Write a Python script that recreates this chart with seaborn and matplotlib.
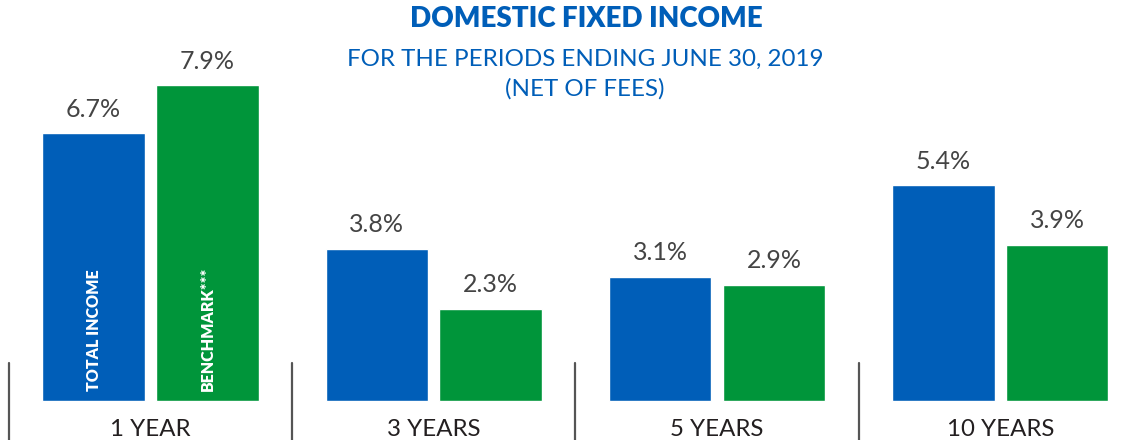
import matplotlib
matplotlib.use("Agg")
import matplotlib.pyplot as plt
import matplotlib.transforms as mtransforms
import seaborn as sns
import pandas as pd

periods = ["1 YEAR", "3 YEARS", "5 YEARS", "10 YEARS"]
total_income = [6.7, 3.8, 3.1, 5.4]
benchmark = [7.9, 2.3, 2.9, 3.9]
series_names = ["TOTAL INCOME", "BENCHMARK***"]

BLUE = "#005EB8"
GREEN = "#00953A"
TEXT = "#231F20"

df = pd.DataFrame({
    "period": periods * 2,
    "series": [series_names[0]] * len(periods) + [series_names[1]] * len(periods),
    "value": total_income + benchmark,
})

sns.set_theme(style="white")
plt.rcParams["font.family"] = ["Lato", "DejaVu Sans"]

fig = plt.figure(figsize=(11.38, 4.4), dpi=100)
ax = fig.add_axes([0, 0, 1, 1])

sns.barplot(data=df, x="period", y="value", hue="series", order=periods,
            hue_order=series_names, palette=[BLUE, GREEN], width=0.805,
            gap=0.1, dodge=True, legend=False, ax=ax, saturation=1)

px_per_cat = 283.2
x0 = -0.5 - 9 / px_per_cat
ax.set_xlim(x0, x0 + 1138 / px_per_cat)
px_per_unit = 39.9
ax.set_ylim(-39.5 / px_per_unit, 400.5 / px_per_unit)
ax.axis("off")

# value labels
for cont in ax.containers:
    ax.bar_label(cont, labels=[f"{v:.1f}%" for v in cont.datavalues],
                 padding=9, fontsize=18, color="#444444")

# in-bar series names on first group
first_bars = [ax.containers[0][0], ax.containers[1][0]]
for bar, name in zip(first_bars, series_names):
    cx = bar.get_x() + bar.get_width() / 2
    ax.text(cx, 0.25, name, rotation=90, ha="center", va="bottom",
            color="white", fontsize=11.5, fontweight="heavy")

# category labels and separators
blend = mtransforms.blended_transform_factory(ax.transData, ax.transAxes)
for i, p in enumerate(periods):
    ax.text(i, 11 / 440, p, transform=blend, ha="center", va="center",
            fontsize=17.3, color=TEXT)
    ax.axvline(i - 0.5, ymin=0, ymax=77 / 440, color="#555555", lw=1.6)

fig.text(586 / 1138, 1 - 19 / 440, "DOMESTIC FIXED INCOME", ha="center",
         va="center", fontsize=20, fontweight="heavy", color=BLUE)
fig.text(585 / 1138, 1 - 59 / 440, "FOR THE PERIODS ENDING JUNE 30, 2019",
         ha="center", va="center", fontsize=17.4, color=BLUE)
fig.text(585 / 1138, 1 - 89 / 440, "(NET OF FEES)",
         ha="center", va="center", fontsize=17.4, color=BLUE)

fig.savefig("out.png", dpi=100)
